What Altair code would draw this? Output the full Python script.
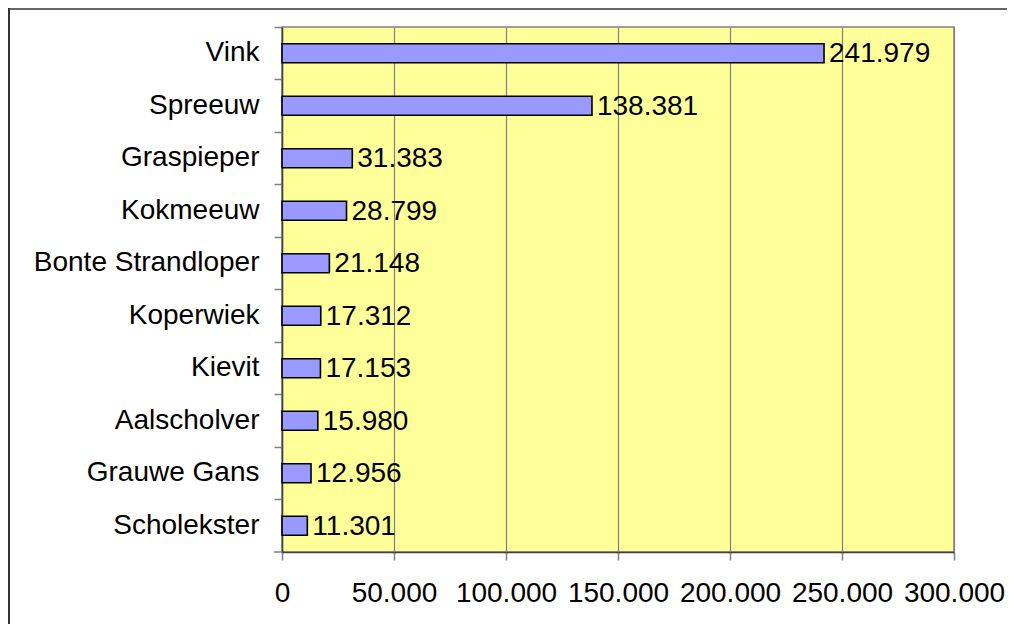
import altair as alt
import pandas as pd

species = ["Vink", "Spreeuw", "Graspieper", "Kokmeeuw", "Bonte Strandloper",
           "Koperwiek", "Kievit", "Aalscholver", "Grauwe Gans", "Scholekster"]
counts = [241979, 138381, 31383, 28799, 21148, 17312, 17153, 15980, 12956, 11301]
x_ticks = [0, 50000, 100000, 150000, 200000, 250000, 300000]

df = pd.DataFrame({"soort": species, "aantal": counts})
df["label"] = [f"{v:,}".replace(",", ".") for v in counts]

FONT = "Liberation Sans"
FS = 28

y_enc = alt.Y("soort:N", sort=species, title=None,
              scale=alt.Scale(paddingInner=0, paddingOuter=0),
              axis=alt.Axis(bandPosition=0, labelPadding=15, labelLimit=0))
x_enc = alt.X("aantal:Q", title=None,
              scale=alt.Scale(domain=[0, 300000], nice=False),
              axis=alt.Axis(values=x_ticks, labelPadding=19, grid=True,
                            labelOverlap=False, labelFlush=False, labelBound=False,
                            labelExpr="datum.value == 0 ? '0' : format(datum.value / 1000, 'd') + '.000'"))

bars = alt.Chart(df).mark_bar(height=19, fill="#9999FF", stroke="#000000",
                              strokeWidth=1.6).encode(x=x_enc, y=y_enc)

labels = alt.Chart(df).mark_text(align="left", baseline="middle", dx=5, dy=1,
                                 font=FONT, fontSize=FS, color="#000000").encode(
    x="aantal:Q", y=alt.Y("soort:N", sort=species), text="label:N")

frame_data = alt.Data(values=[{"k": 1}])
left_border = alt.Chart(frame_data).mark_rule(color="#333333", strokeWidth=2).encode(
    x=alt.value(-273), y=alt.value(-19), y2=alt.value(700))
top_border = alt.Chart(frame_data).mark_rule(color="#333333", strokeWidth=1.5).encode(
    x=alt.value(-274), x2=alt.value(900), y=alt.value(-18))
bottom_tick = alt.Chart(frame_data).mark_rule(color="#808080", strokeWidth=1.5).encode(
    x=alt.value(-8), x2=alt.value(0), y=alt.value(525))

chart = alt.layer(bars, labels, bottom_tick, left_border, top_border).properties(
    width=672, height=525,
    autosize=alt.AutoSizeParams(type="none"),
    padding={"left": 274, "top": 19, "right": 53, "bottom": 72},
    background="#FFFFFF",
).configure_view(
    fill="#FFFF99", stroke="#808080", strokeWidth=1.5
).configure_axis(
    labelFont=FONT, labelFontSize=FS, labelColor="#000000",
    domainColor="#404040", domainWidth=1.5,
    tickColor="#808080", tickSize=8, tickWidth=1.5,
    gridColor="#808080", gridWidth=1.2,
).configure_axisY(grid=False, labelBaseline="middle")

chart.save("out.html", embed_options={"renderer": "svg", "actions": False})
